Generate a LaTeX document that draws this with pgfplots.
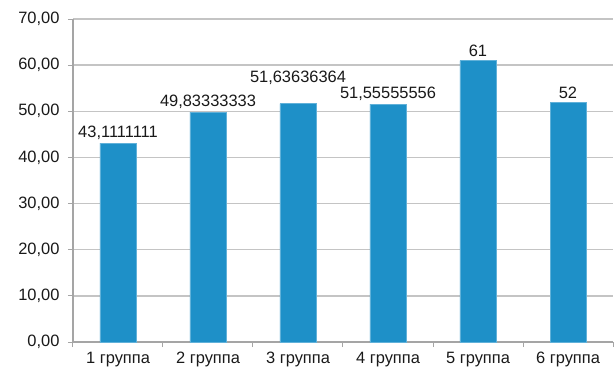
\documentclass[border=0pt]{standalone}
\usepackage{fontspec}
\setmainfont{Liberation Sans}
\usepackage{pgfplots}
\usepackage{pgfplotstable}
\pgfplotsset{compat=1.18}
\definecolor{barblue}{RGB}{30,144,200}
\definecolor{gridgray}{RGB}{196,196,196}
\definecolor{axisgray}{RGB}{165,165,165}

% group means; dy lifts a value label clear of its neighbour
\pgfplotstableread{
x y label dy
0 43.1111111  43,1111111  0
1 49.83333333 49,83333333 0
2 51.63636364 51,63636364 16
3 51.55555556 51,55555556 0
4 61          61          0
5 52          52          0
}\groupdata

\begin{document}
\begin{tikzpicture}
\begin{axis}[
  name=ax,
  scale only axis,
  width=540bp, height=323bp,
  xmin=-0.5, xmax=5.5,
  ymin=0, ymax=70,
  ytick={0,10,...,70},
  xtick={0,...,5},
  xticklabels={1 группа,2 группа,3 группа,4 группа,5 группа,6 группа},
  minor xtick={-0.5,0.5,...,5.5},
  major x tick style={draw=none},
  tick align=outside,
  major tick length=5bp,
  minor tick length=5bp,
  tick style={axisgray, line width=1bp},
  axis x line*=bottom,
  axis y line*=left,
  axis line style={axisgray, line width=1.2bp, -},
  ymajorgrids,
  grid style={gridgray, line width=1.4bp},
  font=\fontsize{16.5}{19}\selectfont,
  /pgf/number format/fixed,
  /pgf/number format/fixed zerofill,
  /pgf/number format/precision=2,
  /pgf/number format/use comma,
  /pgf/number format/assume math mode=true,
  yticklabel style={xshift=-5bp},
  xticklabel style={yshift=-2bp},
  ybar,
  bar width=36bp,
  nodes near coords,
  point meta=explicit symbolic,
  visualization depends on={\thisrow{dy} \as \dy},
  every node near coord/.append style={yshift=\dy bp, font=\fontsize{16.5}{19}\selectfont, text=black!90},
  tick label style={text=black!90},
]
\addplot[fill=barblue, draw=barblue!70!white, line width=0.6bp] table[x=x, y=y, meta=label] {\groupdata};
\coordinate (o) at (rel axis cs:0,0);
\end{axis}
\path (o) ++(-73bp,-32bp) rectangle ++(616bp,374bp);
\end{tikzpicture}
\end{document}
